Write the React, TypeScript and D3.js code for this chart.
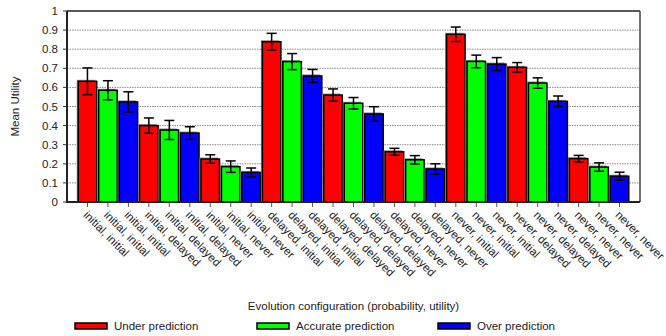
import React from "react";
import * as d3 from "d3";

const configs = [
  "initial, initial",
  "initial, delayed",
  "initial, never",
  "delayed, initial",
  "delayed, delayed",
  "delayed, never",
  "never, initial",
  "never, delayed",
  "never, never",
];
const series = ["Under prediction", "Accurate prediction", "Over prediction"];
const colors = ["#ff0000", "#00ff00", "#0000ff"];
const underValues = [0.632, 0.4, 0.225, 0.839, 0.56, 0.263, 0.878, 0.705, 0.227];
const underErr = [0.07, 0.04, 0.022, 0.044, 0.032, 0.018, 0.038, 0.025, 0.017];
const accurateValues = [0.585, 0.377, 0.185, 0.735, 0.517, 0.221, 0.736, 0.623, 0.183];
const accurateErr = [0.05, 0.05, 0.03, 0.042, 0.03, 0.022, 0.033, 0.027, 0.022];
const overValues = [0.524, 0.361, 0.155, 0.66, 0.461, 0.173, 0.722, 0.527, 0.135];
const overErr = [0.053, 0.033, 0.023, 0.034, 0.038, 0.027, 0.034, 0.028, 0.021];
const yTicks = [0, 0.1, 0.2, 0.3, 0.4, 0.5, 0.6, 0.7, 0.8, 0.9, 1];

const W = 666;
const H = 336;
const left = 67;
const right = 640;
const top = 11;
const bottom = 202;
const FONT = "'Liberation Sans', Arial, Helvetica, sans-serif";
const FS = 11.5;

export default function App() {
  const vals = [underValues, accurateValues, overValues];
  const errs = [underErr, accurateErr, overErr];
  const bars = configs.flatMap((c, ci) =>
    series.map((s, si) => ({
      key: `${ci}-${si}`,
      label: c,
      si,
      v: vals[si][ci],
      e: errs[si][ci],
    }))
  );
  const x = d3
    .scalePoint<string>()
    .domain(bars.map((b) => b.key))
    .range([left, right])
    .padding(1);
  const y = d3.scaleLinear().domain([0, 1]).range([bottom, top]);
  const bw = 18.5;
  const cap = 5;
  const fmt = d3.format("");

  return (
    <svg
      width={W}
      height={H}
      style={{ position: "absolute", left: 0, top: 0, background: "#fff" }}
      fontFamily={FONT}
    >
      <rect x={0} y={0} width={W} height={H} fill="#fff" />
      {/* grid */}
      {yTicks
        .filter((t) => t > 0 && t < 1)
        .map((t) => (
          <line
            key={"g" + t}
            x1={left}
            x2={right}
            y1={y(t)}
            y2={y(t)}
            stroke="#8a8a8a"
            strokeWidth={1}
            strokeDasharray="1.5,1"
          />
        ))}
      {/* bars */}
      {bars.map((b) => {
        const cx = x(b.key)!;
        return (
          <g key={b.key}>
            <rect
              x={cx - bw / 2 - 1.5}
              y={y(b.v) - 1.5}
              width={bw}
              height={bottom - y(b.v) + 1.5}
              fill="#8c8c8c"
            />
            <rect
              x={cx - bw / 2}
              y={y(b.v)}
              width={bw}
              height={bottom - y(b.v)}
              fill={colors[b.si]}
              stroke="#000"
              strokeWidth={1.5}
            />
          </g>
        );
      })}
      {/* error bars */}
      {bars.map((b) => {
        const cx = x(b.key)!;
        const y1 = y(b.v + b.e);
        const y0 = y(b.v - b.e);
        return (
          <g key={"e" + b.key} stroke="#000" strokeWidth={1.5}>
            <line x1={cx} x2={cx} y1={y1} y2={y0} />
            <line x1={cx - cap} x2={cx + cap} y1={y1} y2={y1} />
            <line x1={cx - cap} x2={cx + cap} y1={y0} y2={y0} />
          </g>
        );
      })}
      {/* frame */}
      <line x1={left} x2={right} y1={top} y2={top} stroke="#222" strokeWidth={1.5} />
      <line x1={right} x2={right} y1={top} y2={bottom} stroke="#444" strokeWidth={1.5} />
      <line x1={left} x2={left} y1={top} y2={bottom + 1} stroke="#222" strokeWidth={2} />
      <line x1={left - 1} x2={right} y1={bottom} y2={bottom} stroke="#222" strokeWidth={2} />
      {/* y ticks */}
      {yTicks.map((t) => (
        <g key={"yt" + t}>
          <line x1={left - 4} x2={left} y1={y(t)} y2={y(t)} stroke="#333" strokeWidth={1} />
          <text
            x={left - 9}
            y={y(t)}
            dy="0.35em"
            textAnchor="end"
            fontSize={FS}
            fill="#222"
          >
            {fmt(t)}
          </text>
        </g>
      ))}
      {/* x ticks */}
      {bars.map((b) => {
        const cx = x(b.key)!;
        return (
          <g key={"xt" + b.key}>
            <line x1={cx} x2={cx} y1={bottom + 1} y2={bottom + 5} stroke="#555" strokeWidth={1} />
            <text
              transform={`translate(${cx + 1},${bottom + 8}) rotate(45)`}
              dy="0.7em"
              textAnchor="start"
              fontSize={FS}
              fill="#222"
            >
              {b.label}
            </text>
          </g>
        );
      })}
      {/* axis titles */}
      <text
        transform={`translate(15,${(top + bottom) / 2}) rotate(-90)`}
        textAnchor="middle"
        dy="0.35em"
        fontSize={FS}
        fill="#222"
      >
        Mean Utility
      </text>
      <text
        x={(left + right) / 2}
        y={306}
        dy="0.35em"
        textAnchor="middle"
        fontSize={FS}
        fill="#222"
      >
        Evolution configuration (probability, utility)
      </text>
      {/* legend */}
      {series.map((s, i) => {
        const lx = [75, 257, 438][i];
        return (
          <g key={"lg" + s}>
            <rect x={lx} y={323} width={32} height={6} fill={colors[i]} stroke="#000" strokeWidth={1.5} />
            <text x={lx + 39} y={326} dy="0.35em" fontSize={FS} fill="#222">
              {s}
            </text>
          </g>
        );
      })}
    </svg>
  );
}
